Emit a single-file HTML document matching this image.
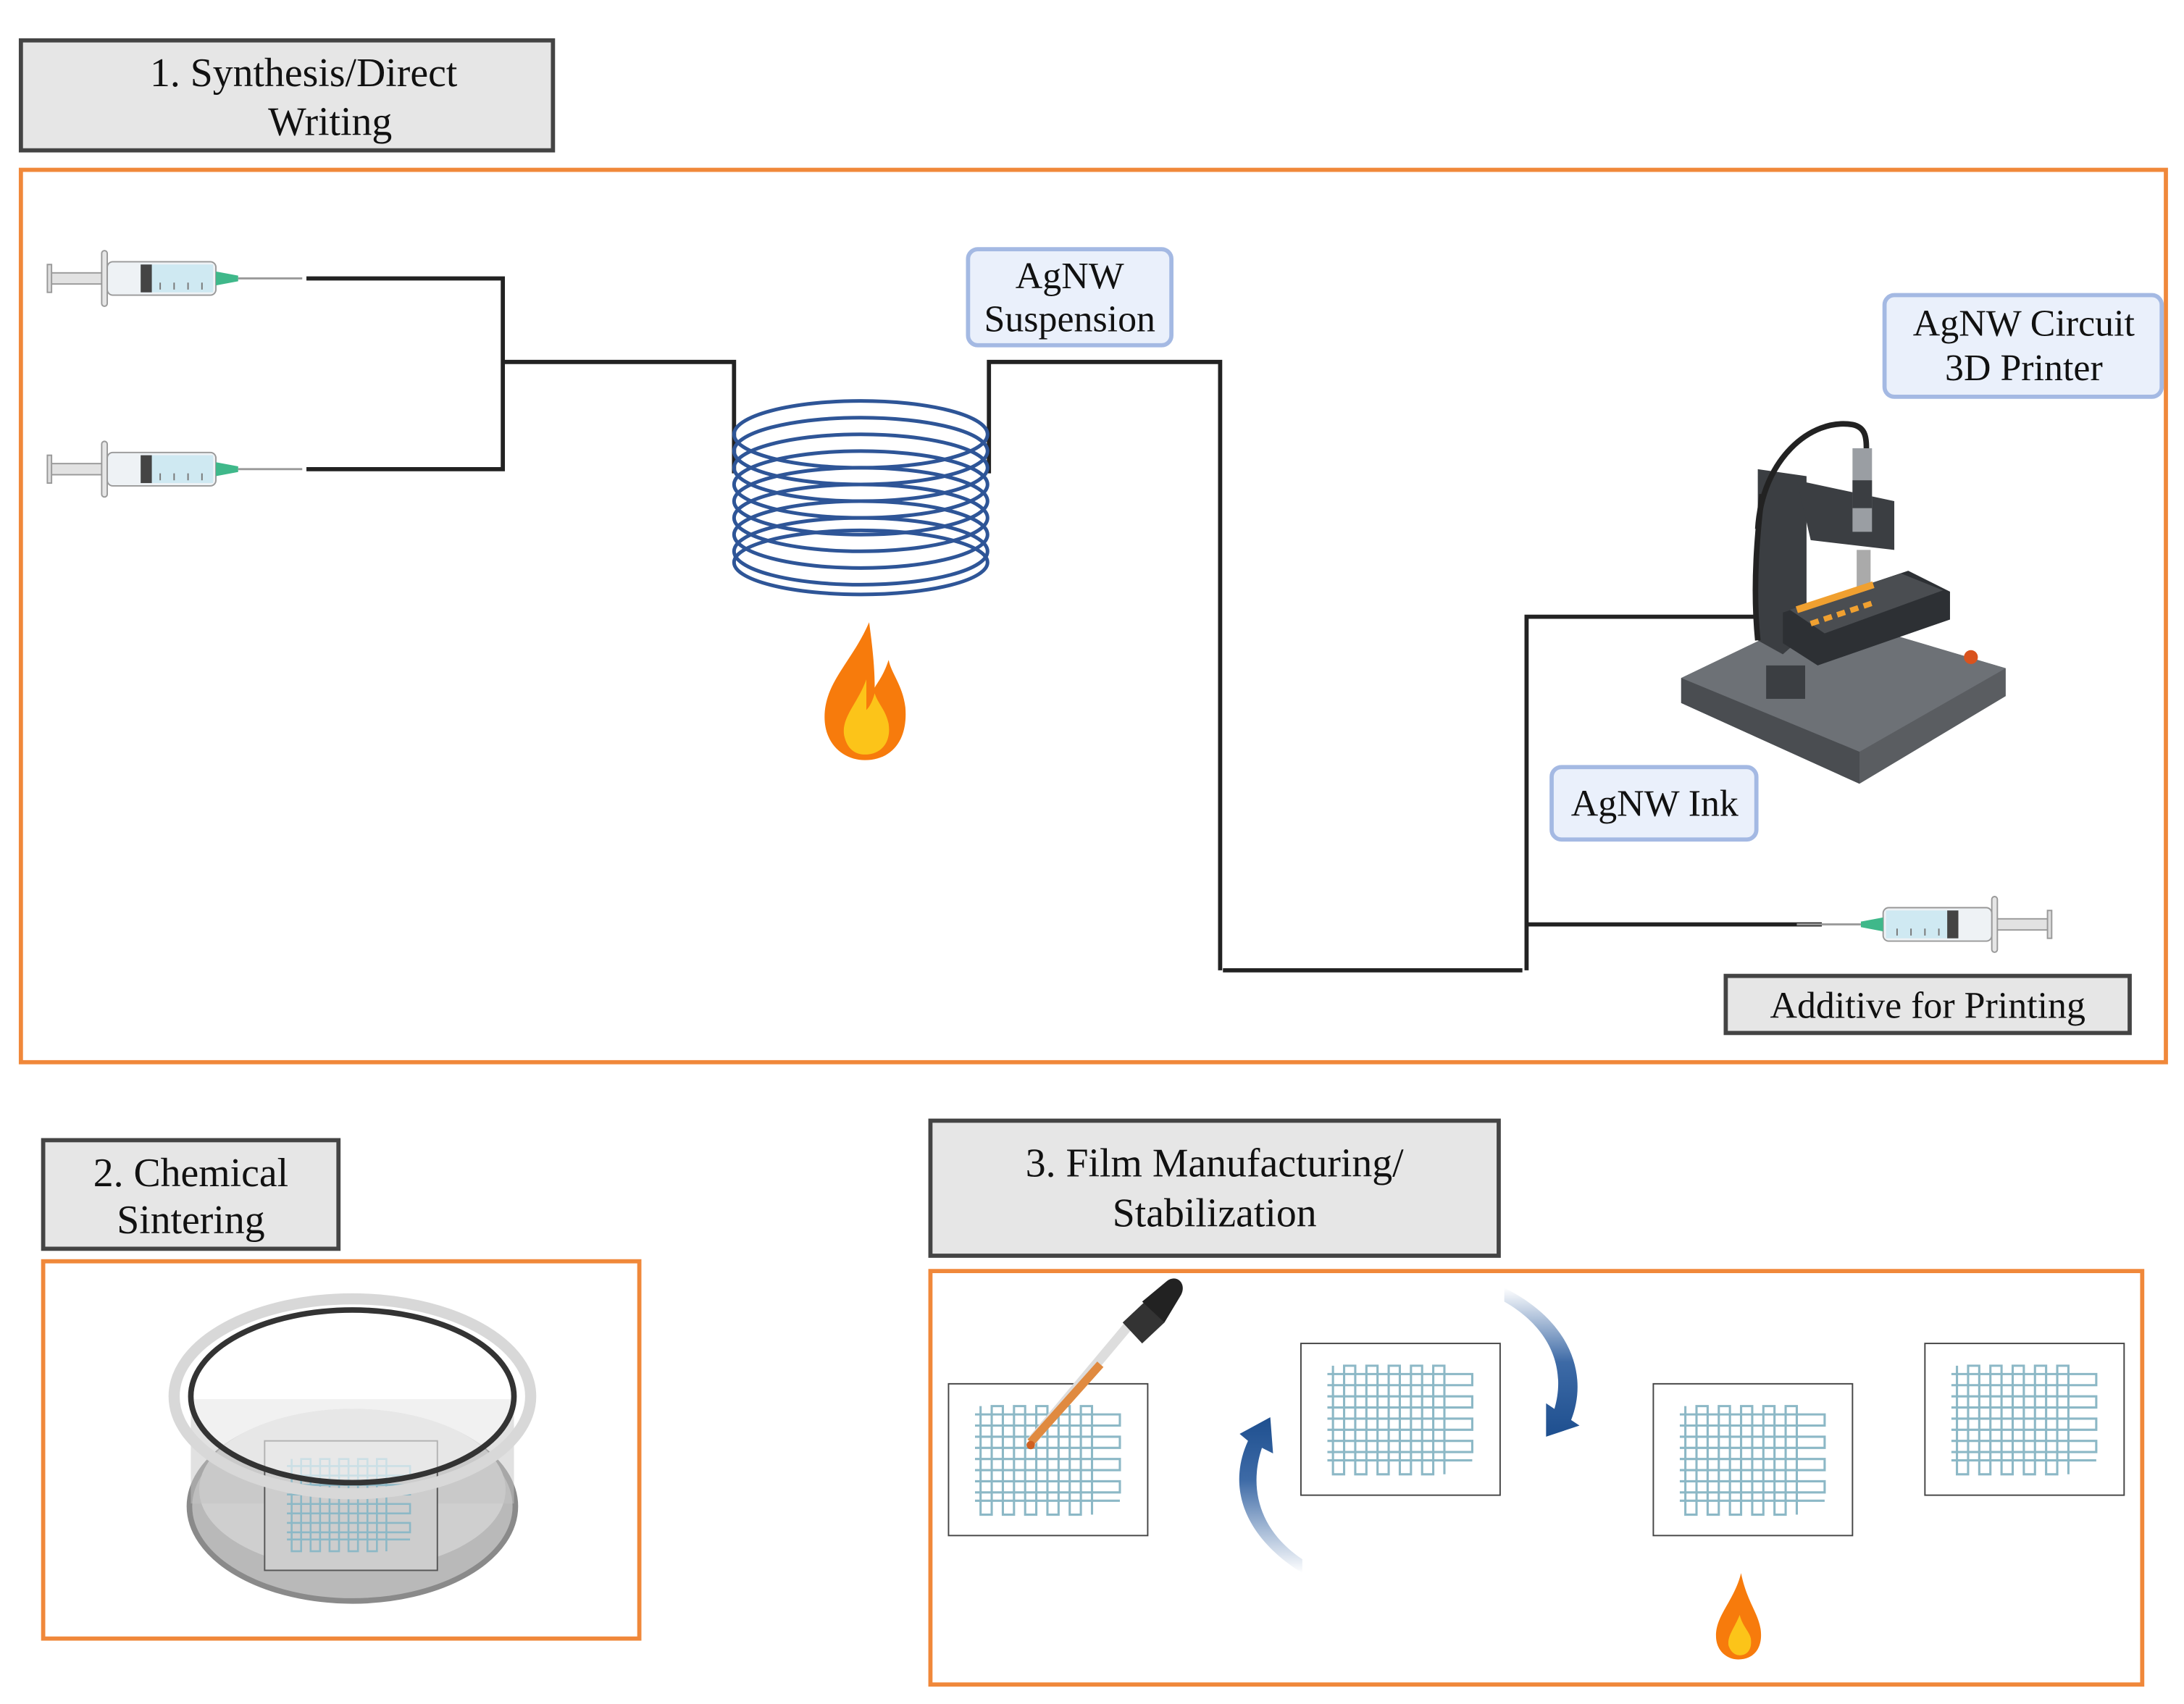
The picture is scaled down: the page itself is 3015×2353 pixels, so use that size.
<!DOCTYPE html>
<html><head><meta charset="utf-8"><style>
html,body{margin:0;padding:0;background:#fff;}
svg{display:block;}
text{font-family:"Liberation Serif",serif;fill:#111;}
</style></head><body>
<svg width="3015" height="2353" viewBox="0 0 1568 1224" preserveAspectRatio="none" xmlns="http://www.w3.org/2000/svg">
<defs>
<g id="syr">
  <rect x="0" y="-4" width="40" height="8" fill="#e2e2e2" stroke="#999" stroke-width="1"/>
  <rect x="-1" y="-10" width="3" height="20" fill="#ddd" stroke="#999"/>
  <rect x="38" y="-20" width="4" height="40" rx="2" fill="#e6e6e6" stroke="#999"/>
  <rect x="42" y="-12" width="78" height="24" rx="4" fill="#eef2f5" stroke="#999"/>
  <rect x="66" y="-10" width="52" height="20" fill="#cfe9f2"/>
  <rect x="66" y="-10" width="8" height="20" fill="#444"/>
  <path d="M80 8v-5M90 8v-5M100 8v-5M110 8v-5" stroke="#777" stroke-width="1"/>
  <path d="M120 -5 L136 -2 L136 2 L120 5Z" fill="#3fb88a"/>
  <line x1="136" y1="0" x2="182" y2="0" stroke="#999" stroke-width="1.5"/>
</g>
<g id="grid" fill="none" stroke="#8cb8c6" stroke-width="1.6">
  <path d="M4 0 v78 h8 v-78 h8 v78 h8 v-78 h8 v78 h8 v-78 h8 v78 h8 v-78 h8 v78 h8 v-78 h8 v78"/>
  <path d="M0 6 h104 v8 h-104 M0 22 h104 v8 h-104 M0 38 h104 v8 h-104 M0 54 h104 v8 h-104 M0 68 h104"/>
</g>
<linearGradient id="arr" x1="0" y1="1" x2="0" y2="0"><stop offset="0" stop-color="#fff"/><stop offset="0.6" stop-color="#3d6aa6"/><stop offset="1" stop-color="#1e4f8f"/></linearGradient>
<linearGradient id="arr2" x1="0" y1="0" x2="0" y2="1"><stop offset="0" stop-color="#fff"/><stop offset="0.5" stop-color="#3d6aa6"/><stop offset="1" stop-color="#1e4f8f"/></linearGradient>
</defs>

<!-- Section 1 -->
<rect x="15" y="29" width="382" height="79" fill="#e6e6e6" stroke="#444" stroke-width="3"/>
<text x="218" y="62" font-size="29" text-anchor="middle">1.  Synthesis/Direct</text>
<text x="237" y="97" font-size="29" text-anchor="middle">Writing</text>
<rect x="15" y="122" width="1540" height="641" fill="none" stroke="#f0883a" stroke-width="3"/>

<use href="#syr" x="35" y="200"/>
<use href="#syr" x="35" y="337"/>
<g fill="none" stroke="#222" stroke-width="3">
  <path d="M220 200 H361 V337 H220"/>
  <path d="M361 260 H527 V340"/>
  <path d="M710 340 V260 H876 V697"/>
  <path d="M878 697 H1093"/>
  <path d="M1096 697 V443 H1262"/>
  <path d="M1096 664 H1308"/>
</g>
<g fill="none" stroke="#2e5597" stroke-width="2.6">
  <ellipse cx="618" cy="312" rx="91" ry="24"/>
  <ellipse cx="618" cy="324" rx="91" ry="24"/>
  <ellipse cx="618" cy="336" rx="91" ry="24"/>
  <ellipse cx="618" cy="348" rx="91" ry="24"/>
  <ellipse cx="618" cy="360" rx="91" ry="24"/>
  <ellipse cx="618" cy="372" rx="91" ry="24"/>
  <ellipse cx="618" cy="384" rx="91" ry="24"/>
  <ellipse cx="618" cy="396" rx="91" ry="24"/>
  <ellipse cx="618" cy="404" rx="91" ry="23"/>
</g>
<!-- flame -->
<path d="M624 447 C612 475 592 490 592 515 C592 535 606 546 621 546 C640 546 652 532 650 508 C648 492 640 484 638 474 C634 486 630 490 628 494 C628 478 626 462 624 447Z" fill="#f77b0c"/>
<path d="M622 488 C616 505 604 515 606 528 C608 538 614 542 621 542 C632 542 640 534 638 520 C636 510 630 505 628 498 C626 505 624 508 622 510Z" fill="#fcc419"/>

<rect x="695" y="179" width="146" height="69" rx="7" fill="#eaf0fb" stroke="#a4b9e3" stroke-width="3"/>
<text x="768" y="207" font-size="27" text-anchor="middle">AgNW</text>
<text x="768" y="238" font-size="27" text-anchor="middle">Suspension</text>

<rect x="1353" y="212" width="199" height="73" rx="7" fill="#eaf0fb" stroke="#a4b9e3" stroke-width="3"/>
<text x="1453" y="241" font-size="27" text-anchor="middle">AgNW Circuit</text>
<text x="1453" y="273" font-size="27" text-anchor="middle">3D Printer</text>

<rect x="1114" y="551" width="147" height="52" rx="7" fill="#eaf0fb" stroke="#a4b9e3" stroke-width="3"/>
<text x="1188" y="586" font-size="27" text-anchor="middle">AgNW Ink</text>

<!-- printer -->
<g>
  <path d="M1207 487 L1305 440 L1440 480 L1440 500 L1335 563 L1207 505Z" fill="#5a5d61"/>
  <path d="M1207 487 L1305 440 L1440 480 L1335 540Z" fill="#6d7176"/>
  <path d="M1207 487 L1335 540 L1335 563 L1207 505Z" fill="#4a4d51"/>
  <path d="M1262 337 L1297 342 L1297 455 L1280 470 L1262 460Z" fill="#3b3e42"/>
  <path d="M1290 345 L1360 360 L1360 395 L1300 388 Z" fill="#3b3e42"/>
  <path d="M1265 355 C1262 380 1258 420 1262 460" stroke="#222" stroke-width="4" fill="none"/>
  <path d="M1262 380 C1265 330 1300 300 1330 305 C1340 307 1340 315 1340 325" stroke="#222" stroke-width="4" fill="none"/>
  <rect x="1330" y="322" width="14" height="60" fill="#9a9ea3"/>
  <rect x="1330" y="345" width="14" height="20" fill="#3b3e42"/>
  <rect x="1333" y="395" width="10" height="30" fill="#aaa"/>
  <path d="M1280 440 L1370 410 L1400 425 L1400 445 L1305 478 L1280 462Z" fill="#2d3034"/>
  <path d="M1285 438 L1365 412 L1395 424 L1310 455Z" fill="#4a4d51"/>
  <path d="M1290 438 L1345 420" stroke="#f0a030" stroke-width="5"/>
  <path d="M1300 448 L1345 433" stroke="#f0a030" stroke-width="4" stroke-dasharray="6 4"/>
  <rect x="1268" y="478" width="28" height="24" fill="#3b3e42"/>
  <circle cx="1415" cy="472" r="5" fill="#d9531e"/>
</g>

<use href="#syr" transform="translate(1472,664) scale(-1,1)"/>
<rect x="1239" y="701" width="290" height="41" fill="#e6e6e6" stroke="#444" stroke-width="3"/>
<text x="1384" y="731" font-size="27" text-anchor="middle">Additive for Printing</text>

<!-- Section 2 -->
<rect x="31" y="819" width="212" height="78" fill="#e6e6e6" stroke="#444" stroke-width="3"/>
<text x="137" y="852" font-size="29" text-anchor="middle">2. Chemical</text>
<text x="137" y="886" font-size="29" text-anchor="middle">Sintering</text>
<rect x="31" y="906" width="428" height="271" fill="none" stroke="#f0883a" stroke-width="3"/>
<ellipse cx="253" cy="1082" rx="117" ry="68" fill="#b9b9b9" stroke="#8a8a8a" stroke-width="4"/>
<ellipse cx="253" cy="1070" rx="110" ry="58" fill="#cfcfcf"/>
<rect x="137" y="1005" width="232" height="75" fill="#c4c4c4" opacity="0.5"/>
<rect x="190" y="1035" width="124" height="93" fill="#cdcdcd" stroke="#555" stroke-width="1"/>
<use href="#grid" transform="translate(206,1048) scale(0.85,0.85)"/>
<ellipse cx="253" cy="1003" rx="128" ry="70" fill="none" stroke="#d8d8d8" stroke-width="8"/>
<ellipse cx="253" cy="1003" rx="116" ry="62" fill="rgba(255,255,255,0.55)" stroke="#333" stroke-width="4"/>

<!-- Section 3 -->
<rect x="668" y="805" width="408" height="97" fill="#e6e6e6" stroke="#444" stroke-width="3"/>
<text x="872" y="845" font-size="29" text-anchor="middle">3. Film Manufacturing/</text>
<text x="872" y="881" font-size="29" text-anchor="middle">Stabilization</text>
<rect x="668" y="913" width="870" height="297" fill="none" stroke="#f0883a" stroke-width="3"/>

<g fill="#fff" stroke="#444" stroke-width="1">
  <rect x="681" y="994" width="143" height="109"/>
  <rect x="934" y="965" width="143" height="109"/>
  <rect x="1187" y="994" width="143" height="109"/>
  <rect x="1382" y="965" width="143" height="109"/>
</g>
<use href="#grid" x="700" y="1010"/>
<use href="#grid" x="953" y="981"/>
<use href="#grid" x="1206" y="1010"/>
<use href="#grid" x="1401" y="981"/>

<!-- dropper -->
<line x1="740" y1="1036" x2="812" y2="950" stroke="#ddd" stroke-width="7"/>
<line x1="740" y1="1036" x2="790" y2="980" stroke="#e08a40" stroke-width="6"/>
<path d="M806 950 L822 935 L836 950 L820 965Z" fill="#333"/>
<path d="M820 935 L838 920 C845 915 852 922 848 930 L836 950Z" fill="#222"/>
<circle cx="740" cy="1038" r="3" fill="#d06020"/>

<!-- curved arrows -->
<path d="M935 1130 C895 1105 880 1070 896 1035 L890 1030 L912 1018 L914 1044 L906 1040 C896 1070 905 1100 935 1120Z" fill="url(#arr)"/>
<path d="M1080 925 C1130 950 1140 990 1128 1020 L1134 1024 L1110 1032 L1110 1008 L1116 1012 C1124 985 1115 955 1080 935Z" fill="url(#arr2)"/>

<!-- small flame -->
<path d="M1250 1130 C1245 1150 1232 1160 1232 1175 C1232 1186 1240 1192 1248 1192 C1259 1192 1266 1184 1264 1170 C1262 1158 1254 1150 1250 1130Z" fill="#f77b0c"/>
<path d="M1249 1160 C1245 1170 1240 1175 1241 1182 C1243 1188 1247 1189 1249 1189 C1255 1189 1258 1184 1257 1177 C1256 1172 1251 1168 1249 1160Z" fill="#fcc419"/>
</svg>
</body></html>
